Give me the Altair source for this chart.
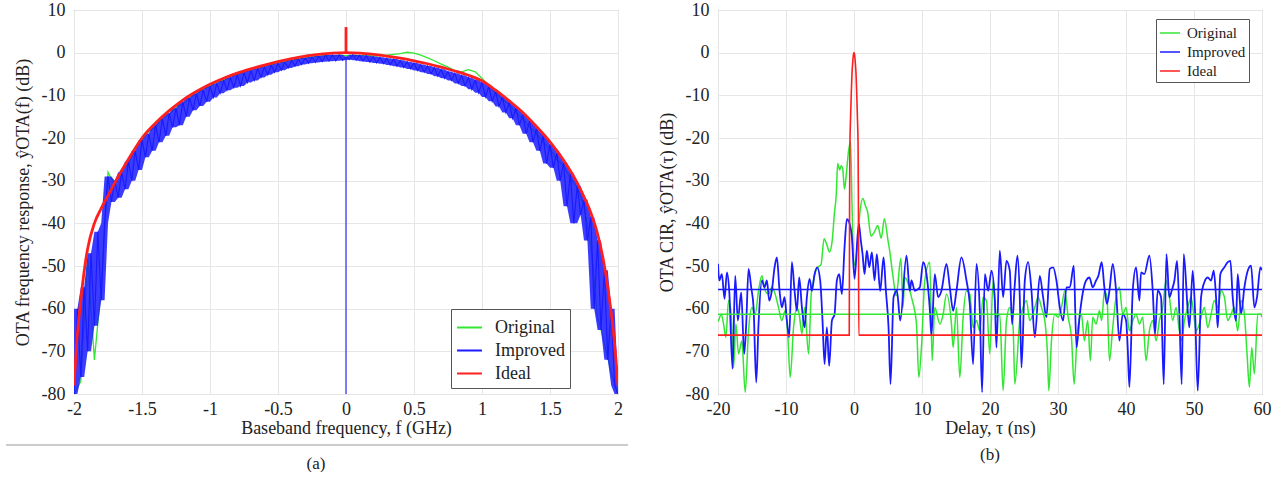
import altair as alt
import numpy as np
import pandas as pd

FONT = "Liberation Serif"
GREEN = "#33e633"
BLUE = "#1a1aff"
RED = "#ff1f1f"
SERIES = ["Original", "Improved", "Ideal"]

# ---------------- panel (a): frequency response ----------------
f_step_blue = np.round(np.arange(-2.0, 2.0001, 0.025), 3)   # 161 samples
f_step_green = np.round(np.arange(-2.0, 2.0001, 0.05), 3)   # 81 samples

improved_freq_db = [
    -80, -60, -76, -55, -70, -47, -64, -42, -58, -40,
    -29, -35, -30, -34, -28, -32, -25.5, -30, -23, -27.5,
    -20.5, -24.5, -19, -23, -17, -21, -15.5, -19.5, -14.2, -17.5,
    -13, -17, -11.6, -15, -10.6, -13.5, -9.6, -12.5, -8.7, -11.5,
    -7.9, -10.5, -7.2, -9.5, -6.5, -8.8, -5.8, -8.2, -5.2, -7.8,
    -4.7, -7, -4.2, -6.5, -3.7, -5.8, -3.3, -5.2, -2.9, -4.6,
    -2.5, -4.1, -2.2, -3.6, -1.8, -3.2, -1.5, -2.8, -1.2, -2.5,
    -1.0, -2.3, -0.8, -2.1, -0.6, -2.0, -0.5, -1.9, -0.5, -1.8,
    -1.0,
    -1.6, -0.5, -1.8, -0.6, -2.0, -0.7, -2.2, -0.9, -2.4, -1.1,
    -2.6, -1.3, -2.9, -1.5, -3.2, -1.8, -3.5, -2.1, -3.8, -2.4,
    -4.2, -2.8, -4.6, -3.1, -5.0, -3.5, -5.5, -3.9, -6.0, -4.4,
    -6.5, -4.8, -7.2, -5.3, -7.8, -5.8, -8.6, -6.4, -9.4, -7.0,
    -10.4, -7.9, -11.4, -9.2, -12.6, -10.4, -14, -11.7, -15.4, -13,
    -17, -14.5, -19, -16, -21, -17.8, -23, -19.5, -26, -21.5,
    -27, -23.5, -30, -25.8, -36, -28.3, -40, -31.2, -38, -34.5,
    -44, -38.5, -60, -44, -65, -51, -72, -60, -78, -80,
]

original_freq_db = [
    -80, -77, -48, -72, -55, -28, -31, -27.5, -26, -22.5,
    -20.5, -18.5, -17.5, -15.3, -14.5, -12.8, -12, -10.6, -9.6, -8.6,
    -7.9, -7, -6.5, -5.7, -5.2, -4.6, -4.1, -3.6, -3.2, -2.8,
    -2.4, -2.1, -1.8, -1.4, -1.3, -1, -0.9, -0.7, -0.8, -0.6,
    -0.7,
    -0.6, -0.7, -0.6, -0.8, -0.7, -0.6, -0.4, -0.2, 0.1, -0.1,
    -0.6, -1.2, -1.9, -2.7, -3.4, -4.2, -4.5, -4.0, -4.5, -6.0,
    -7.8, -9.4, -11, -12.2, -14, -15.5, -17.5, -19, -21, -22.5,
    -25, -26.5, -29.5, -31.5, -36, -45, -62, -68, -75, -80,
]

ideal_freq_f = [-2.0, -1.98, -1.95, -1.92, -1.9, -1.85, -1.8, -1.75, -1.7, -1.6,
                -1.5, -1.4, -1.3, -1.2, -1.1, -1.0, -0.9, -0.8, -0.7, -0.6,
                -0.5, -0.4, -0.3, -0.2, -0.1, 0.0, 0.1, 0.2, 0.3, 0.4,
                0.5, 0.6, 0.7, 0.8, 0.9, 1.0, 1.1, 1.2, 1.3, 1.4,
                1.5, 1.6, 1.7, 1.75, 1.8, 1.85, 1.9, 1.92, 1.95, 1.98, 2.0]
ideal_freq_db = [-78, -68, -58, -50, -46, -40, -36.5, -33.5, -30.5, -25,
                 -20, -16.5, -13.6, -11.1, -9.1, -7.4, -6.0, -4.8, -3.8, -2.9,
                 -2.1, -1.4, -0.8, -0.4, -0.1, 0, -0.1, -0.4, -0.8, -1.3,
                 -1.9, -2.6, -3.4, -4.3, -5.3, -6.6, -8.8, -11.3, -14, -17.3,
                 -20.9, -25.2, -30.5, -33.8, -37.5, -42.5, -50, -54, -61, -70, -78]

# DC spikes at f = 0
spike_f = [0.0, 0.0]
improved_spike_db = [-1.0, -80]
ideal_spike_db = [0.0, 6.0]

# ---------------- panel (b): channel impulse response ----------------
improved_tau = [
    -20.0, -19.82, -19.43, -19.04, -18.69, -18.35, -17.86, -17.47, -17.08, -16.59,
    -16.15, -15.85, -15.51, -15.12, -14.77, -14.38, -14.04, -13.55, -13.15, -12.81,
    -12.47, -12.08, -11.68, -11.34, -10.95, -10.61, -10.21, -9.87, -9.53, -9.14,
    -8.74, -8.40, -8.06, -7.66, -7.27, -6.93, -6.54, -6.19, -5.80, -5.41,
    -4.97, -4.63, -4.33, -3.99, -3.65, -3.25, -2.86, -2.52, -2.17, -1.78,
    -1.39, -1.05, -0.70, -0.31, 0.08, 0.7, 1.0, 1.26, 1.55, 1.89,
    2.24, 2.63, 3.02, 3.36, 3.85, 4.35, 4.69, 5.08, 5.37, 5.82,
    6.31, 6.80, 7.72, 8.21, 8.45, 8.94, 9.68, 10.17, 10.66, 11.15,
    11.39, 11.88, 12.37, 12.86, 13.60, 14.09, 14.58, 15.07, 15.80, 16.54,
    17.03, 17.52, 18.01, 18.50, 18.84, 19.24, 19.73, 20.22, 20.71, 20.95,
    21.44, 21.93, 22.42, 22.91, 23.25, 23.65, 24.04, 24.38, 24.63, 25.12,
    25.61, 26.10, 26.59, 27.32, 27.81, 28.30, 28.79, 29.28, 29.77, 30.26,
    30.75, 31.25, 31.74, 32.32, 32.72, 33.21, 33.70, 34.13, 34.62, 35.11,
    35.60, 35.94, 36.43, 36.82, 37.21, 37.56, 38.05, 38.54, 39.03, 39.52,
    40.01, 40.25, 40.50, 40.99, 41.48, 41.97, 42.21, 42.70, 43.44, 43.93,
    44.27, 44.66, 45.15, 45.55, 45.94, 46.38, 46.72, 47.12, 47.51, 47.85,
    48.19, 48.49, 49.08, 49.32, 49.81, 50.15, 50.55, 51.04, 51.43, 52.02,
    52.51, 52.90, 53.24, 53.49, 53.88, 54.47, 54.96, 55.35, 55.69, 56.18,
    56.43, 56.92, 57.41, 57.99, 58.39, 58.88, 59.27, 59.76, 60.0,
]
improved_cir_db = [
    -49.5, -53.4, -51.9, -57.7, -51.5, -55.8, -74.1, -52.3, -62.8, -56.2,
    -70.6, -63.6, -50.7, -55.0, -59.7, -77.3, -63.6, -53.4, -55.0, -53.4,
    -58.1, -55.8, -50.3, -48.0, -55.8, -59.7, -57.3, -62.8, -66.7, -49.1,
    -55.8, -60.5, -52.7, -59.7, -64.4, -57.3, -53.0, -55.8, -51.9, -50.3,
    -53.4, -62.8, -73.0, -64.4, -73.4, -62.8, -61.3, -53.4, -51.9, -56.6,
    -45.6, -39.0, -39.8, -43.3, -53.0, -40.0, -44.0, -47.2, -51.9, -46.4,
    -50.3, -46.8, -53.4, -47.2, -55.8, -48.0, -55.8, -64.4, -77.7, -57.3,
    -55.8, -62.8, -47.6, -55.8, -53.4, -55.8, -55.0, -49.1, -51.9, -60.1,
    -66.3, -51.9, -57.3, -55.8, -49.5, -55.0, -60.5, -55.8, -48.0, -53.4,
    -58.9, -73.0, -49.5, -60.5, -79.6, -51.9, -55.8, -51.1, -58.1, -69.1,
    -46.4, -57.3, -48.8, -51.1, -63.6, -54.2, -47.6, -57.3, -73.8, -53.4,
    -49.1, -55.8, -66.7, -52.3, -57.3, -62.0, -50.7, -50.3, -53.4, -59.7,
    -62.8, -55.0, -55.0, -49.9, -69.1, -61.3, -55.8, -53.4, -52.7, -55.0,
    -53.4, -52.3, -49.1, -55.0, -58.9, -55.8, -49.5, -55.8, -67.5, -61.3,
    -62.8, -69.1, -78.4, -55.8, -50.3, -58.1, -51.5, -51.9, -47.6, -55.8,
    -65.9, -55.8, -57.3, -77.7, -47.2, -57.3, -55.8, -53.4, -48.8, -61.3,
    -77.7, -47.2, -60.5, -64.4, -51.1, -60.5, -79.2, -57.3, -54.2, -52.7,
    -53.4, -51.1, -57.3, -64.4, -51.9, -50.3, -49.1, -48.8, -57.3, -62.8,
    -51.9, -61.3, -55.0, -50.7, -49.9, -59.7, -57.3, -50.3, -51.0,
]

original_tau = [
    -20.0, -19.92, -19.53, -19.18, -18.84, -18.45, -18.06, -17.71, -17.37, -16.98,
    -16.49, -16.00, -15.51, -15.02, -14.53, -14.04, -13.55, -13.06, -12.57, -12.08,
    -11.59, -11.10, -10.61, -10.12, -9.72, -9.38, -8.89, -8.40, -8.06, -7.66,
    -7.27, -6.68, -6.29, -5.95, -5.61, -5.31, -4.85, -4.4, -4.0, -3.6,
    -3.2, -2.9, -2.6, -2.4, -2.1, -1.9, -1.66, -1.4, -1.1, -0.8,
    -0.5, -0.3, 0.0, 0.5, 0.9, 1.3, 1.7, 2.0, 2.5, 3.0,
    3.5, 4.0, 4.47, 5.0, 5.2, 5.7, 6.2, 6.9, 7.2, 7.47,
    8.45, 9.19, 9.53, 9.92, 10.41, 11.15, 11.49, 11.88, 12.62, 13.11,
    13.60, 14.33, 14.58, 15.07, 15.56, 16.05, 16.54, 17.03, 17.52, 18.01,
    18.50, 18.99, 19.48, 19.97, 20.46, 20.95, 21.44, 21.93, 22.42, 22.91,
    23.40, 23.65, 24.38, 24.87, 25.36, 25.85, 26.59, 27.08, 27.57, 28.06,
    28.45, 28.65, 29.04, 29.53, 30.02, 30.51, 31.00, 31.49, 31.98, 32.37,
    32.86, 33.45, 33.88, 34.37, 34.76, 35.11, 35.60, 36.09, 36.43, 36.82,
    37.21, 37.56, 38.05, 38.54, 39.03, 39.52, 40.01, 40.50, 40.99, 41.48,
    41.97, 42.46, 42.95, 43.44, 43.93, 44.42, 44.91, 45.40, 45.89, 46.38,
    46.87, 47.36, 47.85, 48.19, 48.59, 49.08, 49.57, 49.96, 50.30, 50.79,
    51.14, 51.53, 52.02, 52.51, 53.00, 53.49, 53.98, 54.47, 54.96, 55.45,
    55.94, 56.43, 56.92, 57.41, 57.80, 58.15, 58.49, 58.88, 59.37, 59.76, 60.0,
]
original_cir_db = [
    -63.0, -62.8, -61.3, -63.6, -66.7, -58.1, -61.3, -73.8, -63.6, -70.6,
    -67.5, -79.6, -65.2, -59.7, -61.3, -55.8, -52.3, -55.8, -56.6, -55.0,
    -56.6, -59.7, -62.8, -60.5, -66.7, -76.1, -64.4, -59.7, -61.3, -65.9,
    -59.7, -70.6, -56.6, -53.4, -51.1, -50.3, -49.7, -43.6, -45.0, -46.7,
    -44.0, -38.0, -33.0, -26.0, -27.5, -26.5, -27.2, -32.0, -28.0, -23.0,
    -20.8, -35.0, -50.0, -45.0, -37.0, -34.2, -36.0, -37.3, -43.0, -42.0,
    -40.5, -43.5, -38.9, -44.0, -45.9, -52.0, -57.0, -48.2, -59.7, -52.7,
    -57.3, -63.6, -76.1, -69.1, -53.4, -49.1, -72.2, -59.7, -63.6, -61.3,
    -56.6, -63.6, -69.1, -59.7, -76.1, -62.0, -55.8, -56.6, -64.4, -62.8,
    -65.2, -57.3, -58.1, -70.6, -53.4, -62.0, -61.3, -79.2, -62.8, -59.7,
    -64.4, -77.7, -62.8, -59.7, -58.1, -62.8, -59.7, -57.3, -59.7, -62.8,
    -70.6, -79.2, -67.5, -61.3, -62.0, -59.7, -55.8, -62.0, -66.7, -77.7,
    -65.2, -61.3, -67.5, -62.8, -72.2, -62.0, -63.6, -60.5, -62.8, -55.8,
    -57.3, -72.2, -64.4, -57.3, -55.0, -61.3, -59.7, -65.2, -62.8, -61.3,
    -63.6, -62.0, -72.2, -65.2, -62.8, -67.5, -62.8, -59.7, -53.4, -57.3,
    -62.8, -59.7, -65.2, -67.5, -62.8, -59.7, -57.3, -61.3, -65.2, -63.6,
    -61.3, -59.7, -64.4, -61.3, -58.1, -59.7, -55.8, -57.3, -62.8, -61.3,
    -59.7, -65.2, -58.1, -61.3, -70.6, -78.4, -69.1, -75.3, -61.3, -61.3, -62.0,
]

ideal_tau = [-20, -0.7, -0.65, -0.6, -0.5, -0.4, -0.3, -0.2, -0.1, 0.0,
             0.1, 0.2, 0.3, 0.4, 0.5, 0.6, 0.65, 0.7, 60]
ideal_cir_db = [-66.2, -66.2, -35, -22, -15, -9.5, -5, -2.5, -0.7, 0,
                -0.7, -2.5, -5, -9.5, -15, -22, -35, -66.2, -66.2]

mean_series = ["Original", "Improved"]
mean_levels_db = [-61.3, -55.5]

# ---------------- tables ----------------
def table(x, y, series, seg="main"):
    return pd.DataFrame({"x": x, "y": y, "series": series, "seg": seg,
                         "idx": np.arange(len(x))})

blue_a = pd.concat([table(f_step_blue, improved_freq_db, "Improved"),
                    table(spike_f, improved_spike_db, "Improved", "spike")])
green_a = table(f_step_green, original_freq_db, "Original")
red_a = pd.concat([table(ideal_freq_f, ideal_freq_db, "Ideal"),
                   table(spike_f, ideal_spike_db, "Ideal", "spike")])

# dense band of the improved response: local min / max of neighbouring samples
imp = np.array(improved_freq_db, dtype=float)
lo = np.minimum(np.minimum(imp, np.roll(imp, 1)), np.roll(imp, -1))
hi = np.maximum(np.maximum(imp, np.roll(imp, 1)), np.roll(imp, -1))
lo[0], hi[0] = imp[0], max(imp[0], imp[1])
lo[-1], hi[-1] = imp[-1], max(imp[-1], imp[-2])
band_a = pd.DataFrame({"x": f_step_blue, "lo": lo, "hi": hi, "series": "Improved"})

blue_b = table(improved_tau, improved_cir_db, "Improved")
green_b = table(original_tau, original_cir_db, "Original")
red_b = table(ideal_tau, ideal_cir_db, "Ideal")
means_b = pd.DataFrame({"series": mean_series, "y": mean_levels_db})

W, H = 544, 384


def axes(xdom, xvals, xtitle, ytitle):
    xs = alt.Scale(domain=xdom, nice=False, zero=False)
    ys = alt.Scale(domain=[-80, 10], nice=False, zero=False)
    common = dict(grid=True, ticks=False, domain=False, labelFlush=False,
                  labelFont=FONT, labelFontSize=18, labelColor="#222",
                  titleFont=FONT, titleFontSize=18, titleFontWeight="normal",
                  titleColor="#222", gridColor="#e6e6e6", gridWidth=1,
                  labelExpr="'' + datum.value")
    xax = alt.Axis(values=xvals, title=xtitle, labelPadding=6, titlePadding=1,
                   **common)
    yax = alt.Axis(values=list(range(-80, 11, 10)), title=ytitle,
                   labelPadding=9, titlePadding=9, **common)
    return (lambda f="x:Q": alt.X(f, scale=xs, axis=xax),
            lambda f="y:Q": alt.Y(f, scale=ys, axis=yax))


def line(df, X, Y, cscale, legend, width, interp):
    return alt.Chart(df).mark_line(clip=True, interpolate=interp,
                                   strokeWidth=width).encode(
        x=X(), y=Y(),
        color=alt.Color("series:N", scale=cscale, legend=legend),
        detail="seg:N", order="idx:Q")


cs_a = alt.Scale(domain=SERIES, range=[GREEN, BLUE, RED])
cs_b = alt.Scale(domain=SERIES, range=[GREEN, BLUE, RED])

legend_a = alt.Legend(title=None, orient="none", legendX=377, legendY=299,
                      fillColor="white", strokeColor="#555", padding=5,
                      labelFont=FONT, labelFontSize=18, labelColor="#222",
                      symbolType="stroke", symbolSize=620, symbolStrokeWidth=2,
                      rowPadding=0, labelOffset=12)
legend_b = alt.Legend(title=None, orient="none", legendX=438, legendY=9,
                      fillColor="white", strokeColor="#555", padding=3,
                      labelFont=FONT, labelFontSize=15, labelColor="#222",
                      symbolType="stroke", symbolSize=400, symbolStrokeWidth=1.5,
                      rowPadding=0, labelOffset=6)

Xa, Ya = axes([-2, 2], [-2, -1.5, -1, -0.5, 0, 0.5, 1, 1.5, 2],
              "Baseband frequency, f (GHz)",
              "OTA frequency response, ŷOTA(f) (dB)")

sep_line = alt.Chart(pd.DataFrame({"k": [0]})).mark_rule(
    color="#999", strokeWidth=1, clip=False).encode(
    x=alt.value(-68), x2=alt.value(554), y=alt.value(435))

band_layer = alt.Chart(band_a).mark_area(clip=True, color=BLUE, opacity=0.85).encode(
    x=Xa(), y=Ya("lo:Q"), y2="hi:Q")

left = alt.layer(
    sep_line,
    line(green_a, Xa, Ya, cs_a, legend_a, 1.3, "linear"),
    band_layer,
    line(blue_a, Xa, Ya, cs_a, legend_a, 1.1, "linear"),
    line(red_a, Xa, Ya, cs_a, legend_a, 2.8, "monotone"),
).properties(
    width=W, height=H,
    title=alt.TitleParams("(a)", orient="bottom", anchor="middle", font=FONT,
                          fontSize=17, fontWeight="normal", color="#222",
                          offset=10, dx=-30))

Xb, Yb = axes([-20, 60], list(range(-20, 61, 10)),
              "Delay, τ (ns)", "OTA CIR, ŷOTA(τ) (dB)")

mean_rules = alt.Chart(means_b).mark_rule(strokeWidth=1.5, clip=True).encode(
    y=Yb(),
    color=alt.Color("series:N", scale=cs_b, legend=legend_b),
)

right = alt.layer(
    line(green_b, Xb, Yb, cs_b, legend_b, 1.5, "monotone"),
    line(blue_b, Xb, Yb, cs_b, legend_b, 1.8, "monotone"),
    mean_rules,
    line(red_b, Xb, Yb, cs_b, legend_b, 1.6, "monotone"),
).properties(
    width=W, height=H,
    title=alt.TitleParams("(b)", orient="bottom", anchor="middle", font=FONT,
                          fontSize=17, fontWeight="normal", color="#222",
                          offset=10, dx=0))

chart = alt.hconcat(left, right, spacing=28).resolve_scale(
    color="independent"
).resolve_legend(
    color="independent"
).properties(
    padding={"left": 5, "top": 0, "right": 0, "bottom": 0}
).configure(background="white").configure_view(
    stroke="#888", strokeWidth=1
)

chart.save("out.html", embed_options={"renderer": "svg", "actions": False})
